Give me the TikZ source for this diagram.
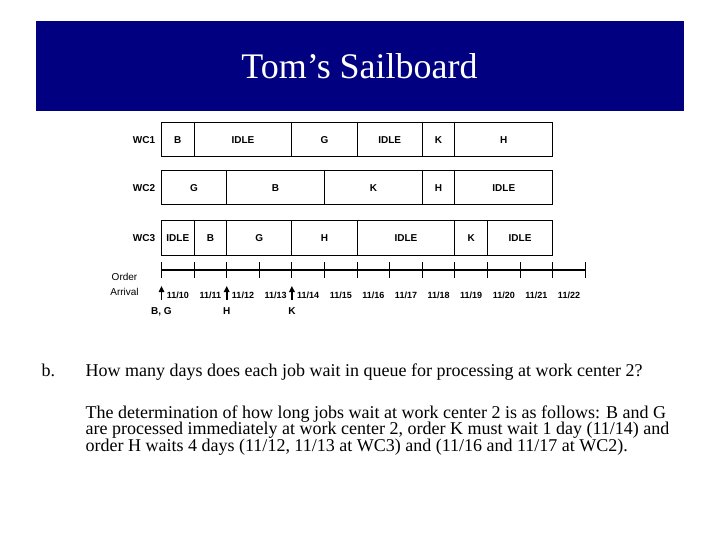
\documentclass[tikz,border=0pt]{standalone}
\usepackage{fontspec}
\setmainfont{Liberation Serif}
\setsansfont{Liberation Sans}
\usetikzlibrary{arrows.meta}
\definecolor{bannerblue}{RGB}{0,0,128}

\begin{document}
\begin{tikzpicture}[x=1pt, y=-1pt,
	seg/.style={draw, line width=1pt},
	job/.style={font=\sffamily\bfseries\fontsize{10}{12}\selectfont, inner sep=0pt},
	wclabel/.style={font=\sffamily\bfseries\fontsize{10}{12}\selectfont, inner sep=0pt},
	day/.style={font=\sffamily\bfseries\fontsize{9}{11}\selectfont, inner sep=0pt},
	arrival/.style={line width=1.6pt, -{Triangle[length=6pt, width=5.5pt]}},
	body/.style={font=\fontsize{18}{16.7}\selectfont, inner sep=0pt, anchor=base west}]
	\useasboundingbox (0,0) rectangle (720,540);
	
	% banner
	\fill[bannerblue] (36,21) rectangle (684,111.5);
	\node[text=white, font=\fontsize{36}{40}\selectfont, inner sep=0pt, anchor=base] (title) at (359.5,78.5) {Tom’s Sailboard};
	
	% work centres
	\node[wclabel] (wc1) at (144,140) {WC1};
	\node[wclabel] (wc2) at (144,188) {WC2};
	\node[wclabel] (wc3) at (144,238) {WC3};
	
	\begin{scope}[shift={(161.5,123)}, x=32.6pt]
		\foreach \a/\b/\j in {0/1/B, 1/4/IDLE, 4/6/G, 6/8/IDLE, 8/9/K, 9/12/H}
			\draw[seg] (\a,0) rectangle node[job] {\j} (\b,34);
	\end{scope}
	
	\begin{scope}[shift={(161.5,171)}, x=32.6pt]
		\foreach \a/\b/\j in {0/2/G, 2/5/B, 5/8/K, 8/9/H, 9/12/IDLE}
			\draw[seg] (\a,0) rectangle node[job] {\j} (\b,34);
	\end{scope}
	
	\begin{scope}[shift={(161.5,221)}, x=32.6pt]
		\foreach \a/\b/\j in {0/1/IDLE, 1/2/B, 2/4/G, 4/6/H, 6/9/IDLE, 9/10/K, 10/12/IDLE}
			\draw[seg] (\a,0) rectangle node[job] {\j} (\b,34);
	\end{scope}
	
	% time line
	\node[font=\sffamily\fontsize{10}{15.5}\selectfont, align=center, inner sep=0pt] (arr) at (124.5,284.5) {Order\\Arrival};
	
	\begin{scope}[shift={(161.5,0)}, x=32.6pt]
		\draw[line width=1.2pt] (0,270) -- (13,270);
		\foreach \i in {0,...,13}
			\draw[line width=1.1pt] (\i,262) -- (\i,278);
		\foreach \i [evaluate=\i as \d using int(10+\i)] in {0,...,12}
			\node[day] (d\i) at (\i+0.5,295) {11/\d};
		
		\coordinate (tBG) at (0,299.5);
		\coordinate (tH) at (2,299.5);
		\coordinate (tK) at (4,299.5);
		\node[wclabel] (oBG) at (0,311.5) {B, G};
		\node[wclabel] (oH) at (2,311.5) {H};
		\node[wclabel] (oK) at (4,311.5) {K};
		\draw[arrival] (tBG) -- ++(0,-13.5);
		\draw[arrival] (tH) -- ++(0,-13.5);
		\draw[arrival] (tK) -- ++(0,-13.5);
	\end{scope}
	
	% question and answer
	\node[body] (qb) at (41.5,376) {b.};
	\node[body] (q) at (85.5,376) {How many days does each job wait in queue for processing at work center 2?};
	\node[body, align=left] (ans) at (85.5,451.5) {The determination of how long jobs wait at work center 2 is as follows: B and G\\
		are processed immediately at work center 2, order K must wait 1 day (11/14) and\\
		order H waits 4 days (11/12, 11/13 at WC3) and (11/16 and 11/17 at WC2).};
\end{tikzpicture}
\end{document}
